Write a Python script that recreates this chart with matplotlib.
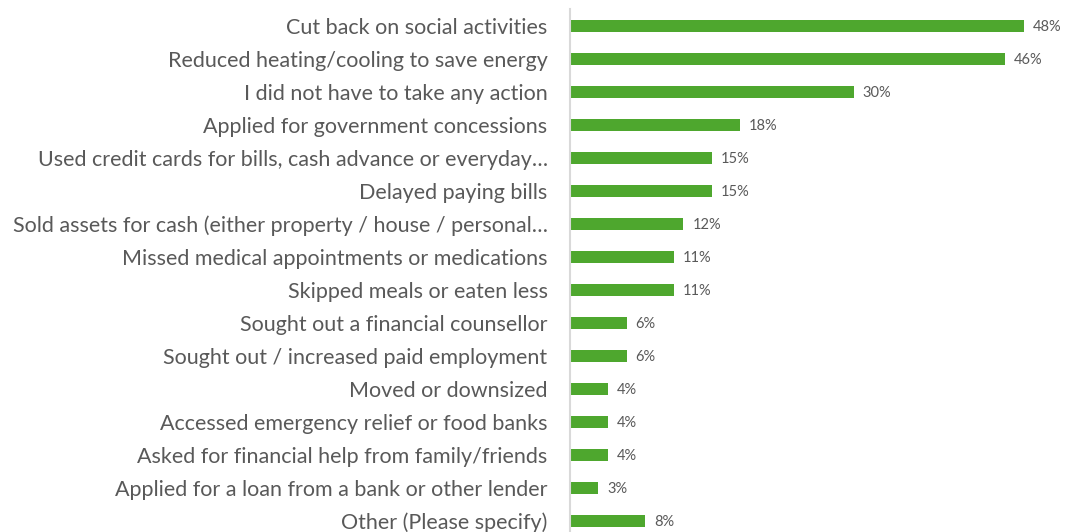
import matplotlib.pyplot as plt

categories = [
    "Cut back on social activities",
    "Reduced heating/cooling to save energy",
    "I did not have to take any action",
    "Applied for government concessions",
    "Used credit cards for bills, cash advance or everyday\u2026",
    "Delayed paying bills",
    "Sold assets for cash (either property / house / personal\u2026",
    "Missed medical appointments or medications",
    "Skipped meals or eaten less",
    "Sought out a financial counsellor",
    "Sought out / increased paid employment",
    "Moved or downsized",
    "Accessed emergency relief or food banks",
    "Asked for financial help from family/friends",
    "Applied for a loan from a bank or other lender",
    "Other (Please specify)",
]
values = [48, 46, 30, 18, 15, 15, 12, 11, 11, 6, 6, 4, 4, 4, 3, 8]

green = "#4ea72e"
text_grey = "#595959"
plt.rcParams['font.family'] = ['Lato', 'DejaVu Sans']

fig = plt.figure(figsize=(10.75, 5.32), dpi=100)
ax = fig.add_axes([0.530, -0.0103, 0.44, 0.9925])

pos = list(range(len(categories)))
ax.barh(pos, values, height=0.34, color=green)
ax.set_ylim(len(categories) - 0.5, -0.5)
ax.set_xlim(0, 50)

# percentage label just past the end of each bar
for y, v in zip(pos, values):
    ax.annotate(f"{v}%", (v, y), xytext=(6.5, -1), textcoords="offset points",
                va="center", ha="left", fontsize=10.5, color=text_grey)

ax.set_yticks(pos)
ax.set_yticklabels(categories, fontsize=15.5, color=text_grey)
ax.tick_params(axis="y", length=0, pad=16)
ax.set_xticks([])
for s in ["top", "right", "bottom"]:
    ax.spines[s].set_visible(False)
ax.spines["left"].set_color("#d9d9d9")
ax.spines["left"].set_linewidth(1.5)

fig.savefig("out.png", dpi=100)
